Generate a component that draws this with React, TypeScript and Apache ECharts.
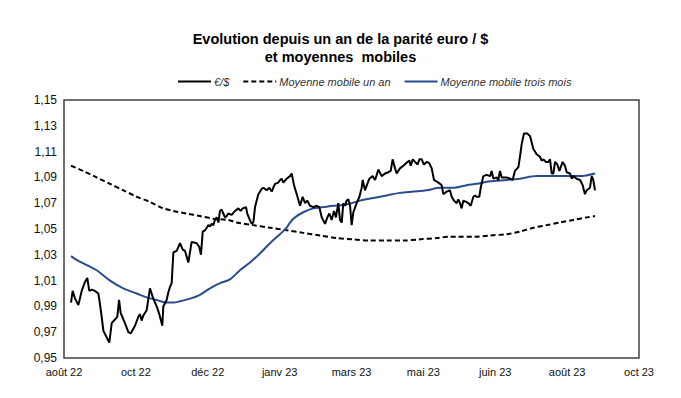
import React, { useEffect, useRef } from "react";
import * as echarts from "echarts";

// x positions are days counted from the first axis tick (late August 2022)
const tickLabels = ["août 22", "oct 22", "déc 22", "janv 23", "mars 23", "mai 23", "juin 23", "août 23", "oct 23"];

const eurDays = [
  4.9, 6.0, 7.7, 10.0, 12.3, 14.6, 16.2, 17.6, 19.3, 21.6, 23.9, 25.0, 26.2, 27.4, 29.7, 31.5, 33.2, 35.5, 37.1, 38.3,
  39.4, 42.4, 44.8, 46.4, 49.4, 51.7, 52.9, 54.0, 55.2, 57.5, 59.8, 62.1, 64.5, 66.3, 68.4, 69.1, 71.4, 72.6, 73.7, 74.9,
  76.1, 78.4, 80.7, 82.6, 84.2, 86.5, 88.8, 92.3, 94.1, 95.3, 96.5, 98.1, 99.3, 100.4, 101.6, 102.7, 103.9, 105.0, 106.2, 107.4,
  108.5, 109.7, 110.8, 112.0, 113.2, 114.3, 116.6, 119.0, 121.3, 122.9, 124.3, 126.6, 127.5, 128.9, 130.6, 131.7, 132.9, 135.2,
  137.5, 138.7, 141.0, 142.8, 144.5, 145.6, 146.8, 149.1, 150.3, 151.4, 152.6, 154.9, 157.2, 158.4, 160.0, 161.9, 164.2, 166.0,
  167.7, 169.3, 171.1, 173.5, 175.8, 177.6, 179.3, 181.6, 183.2, 184.6, 186.2, 187.8, 189.2, 190.8, 192.0, 193.2, 194.3, 195.5,
  196.6, 197.8, 199.0, 200.1, 201.3, 203.6, 205.5, 207.1, 207.8, 209.4, 211.0, 212.4, 214.7, 216.4, 218.7, 221.0, 223.3, 225.6,
  227.3, 228.6, 230.3, 231.4, 233.7, 236.1, 237.9, 240.2, 241.2, 242.6, 244.2, 246.0, 247.2, 248.8, 250.4, 252.3, 254.1, 255.8,
  257.4, 260.4, 262.7, 263.9, 266.2, 268.5, 269.7, 271.3, 273.2, 274.3, 275.5, 276.6, 277.8, 279.7, 281.3, 282.9, 284.8, 285.9,
  287.1, 288.9, 289.9, 291.7, 294.0, 296.4, 297.5, 298.7, 301.0, 302.1, 303.3, 304.5, 305.6, 307.9, 310.3, 312.1, 313.7, 316.1,
  317.2, 318.4, 320.0, 322.3, 324.2, 326.5, 328.8, 331.1, 332.3, 333.5, 335.3, 336.9, 338.1, 339.3, 340.4, 341.6, 343.2, 344.6,
  346.9, 348.5, 349.7, 352.0, 353.2, 354.3, 356.6, 359.0, 360.8, 362.4, 363.6, 364.8, 365.9, 367.1, 368.2, 369.4
];
const eurValues = [
  0.993, 1.002, 0.996, 0.991, 1.002, 1.009, 1.012, 1.002, 1.003, 1.002, 1.000, 0.992, 0.982, 0.971, 0.966, 0.962, 0.977, 0.980, 0.982, 0.995,
  0.985, 0.977, 0.970, 0.969, 0.975, 0.982, 0.984, 0.979, 0.983, 0.987, 1.004, 0.996, 0.990, 0.984, 0.975, 0.990, 0.995, 1.001, 1.005, 1.008,
  1.032, 1.033, 1.039, 1.034, 1.033, 1.024, 1.040, 1.039, 1.036, 1.030, 1.048, 1.049, 1.051, 1.053, 1.052, 1.054, 1.053, 1.057, 1.059, 1.055,
  1.064, 1.065, 1.062, 1.059, 1.060, 1.062, 1.061, 1.064, 1.066, 1.064, 1.066, 1.067, 1.062, 1.058, 1.054, 1.055, 1.067, 1.077,
  1.081, 1.082, 1.080, 1.082, 1.079, 1.082, 1.085, 1.086, 1.088, 1.089, 1.086, 1.089, 1.091, 1.093, 1.084, 1.077, 1.068, 1.075,
  1.070, 1.072, 1.068, 1.067, 1.068, 1.067, 1.059, 1.054, 1.059, 1.062, 1.057, 1.064, 1.059, 1.070, 1.057, 1.055, 1.070, 1.068,
  1.072, 1.073, 1.068, 1.053, 1.063, 1.070, 1.075, 1.082, 1.088, 1.080, 1.085, 1.089, 1.091, 1.088, 1.096, 1.091, 1.093, 1.094,
  1.095, 1.104, 1.097, 1.093, 1.097, 1.099, 1.101, 1.103, 1.099, 1.104, 1.102, 1.100, 1.104, 1.104, 1.100, 1.102, 1.101, 1.097,
  1.088, 1.086, 1.084, 1.077, 1.079, 1.080, 1.075, 1.072, 1.070, 1.073, 1.070, 1.066, 1.072, 1.071, 1.070, 1.068, 1.075, 1.076,
  1.075, 1.075, 1.082, 1.091, 1.092, 1.091, 1.095, 1.089, 1.090, 1.088, 1.095, 1.090, 1.090, 1.090, 1.089, 1.088, 1.095, 1.098,
  1.106, 1.116, 1.124, 1.124, 1.122, 1.112, 1.108, 1.106, 1.103, 1.104, 1.102, 1.102, 1.104, 1.093, 1.093, 1.102, 1.100, 1.095,
  1.102, 1.099, 1.094, 1.093, 1.089, 1.091, 1.089, 1.088, 1.084, 1.077, 1.080, 1.081, 1.082, 1.091, 1.088, 1.080
];

const maYearDays = [4.9, 13.4, 22.7, 32.0, 41.3, 50.6, 59.8, 69.1, 76.1, 85.3, 94.6, 103.9, 114.3, 120.1, 131.7, 143.3, 154.9, 166.5, 178.1, 189.7, 201.3, 212.9, 224.5, 236.1, 247.7, 259.2, 268.5, 273.2, 284.8, 296.3, 307.9, 317.2, 326.5, 335.8, 345.0, 354.3, 363.6, 369.4];
const maYearValues = [1.099, 1.095, 1.090, 1.085, 1.080, 1.075, 1.071, 1.066, 1.064, 1.062, 1.060, 1.058, 1.057, 1.055, 1.053, 1.051, 1.049, 1.047, 1.045, 1.043, 1.042, 1.041, 1.041, 1.041, 1.042, 1.043, 1.044, 1.044, 1.044, 1.045, 1.046, 1.048, 1.051, 1.053, 1.055, 1.057, 1.059, 1.060];

const ma3mDays = [4.9, 8.8, 15.8, 22.7, 32.0, 41.3, 50.6, 57.5, 64.5, 71.4, 76.1, 80.7, 87.7, 94.6, 101.6, 108.5, 115.5, 122.4, 129.4, 136.3, 143.3, 150.3, 154.9, 157.2, 160.7, 166.5, 173.4, 180.4, 187.4, 196.6, 205.9, 215.2, 224.5, 233.7, 243.0, 252.3, 261.6, 270.8, 280.1, 287.1, 296.3, 307.9, 317.2, 328.8, 338.1, 349.7, 359.0, 369.4];
const ma3mValues = [1.029, 1.026, 1.022, 1.018, 1.010, 1.004, 1.000, 0.997, 0.995, 0.993, 0.993, 0.994, 0.996, 0.999, 1.004, 1.008, 1.011, 1.018, 1.024, 1.031, 1.039, 1.046, 1.051, 1.055, 1.059, 1.063, 1.066, 1.067, 1.068, 1.069, 1.072, 1.074, 1.076, 1.078, 1.079, 1.080, 1.082, 1.082, 1.084, 1.085, 1.087, 1.088, 1.089, 1.091, 1.091, 1.091, 1.091, 1.093];

const zip = (xs: number[], ys: number[]) => xs.map((x, i) => [x, ys[i]]);

export default function App() {
  const ref = useRef<HTMLDivElement>(null);
  useEffect(() => {
    if (!ref.current) return;
    const chart = echarts.init(ref.current, undefined, { renderer: "svg" });
    chart.setOption({
      animation: false,
      backgroundColor: "#ffffff",
      textStyle: { fontFamily: "Liberation Sans, Arial, sans-serif" },
      title: {
        text: "Evolution depuis un an de la parité euro / $\net moyennes  mobiles",
        left: "center",
        top: 25,
        textStyle: { fontSize: 14.5, fontWeight: "bold", color: "#000", lineHeight: 18, fontFamily: "Liberation Sans, Arial, sans-serif" },
      },
      legend: {
        top: 71,
        left: 172,
        itemWidth: 33,
        itemHeight: 10,
        itemGap: 13,
        itemStyle: { opacity: 0 },
        textStyle: { fontSize: 11, fontStyle: "italic", color: "#333", fontFamily: "Liberation Sans, Arial, sans-serif", padding: [0, 0, 0, -2] },
        data: ["€/$", "Moyenne mobile un an", "Moyenne mobile trois mois"],
      },
      grid: {
        left: 64,
        right: 42,
        top: 100,
        bottom: 40,
        show: true,
        borderColor: "#404040",
        borderWidth: 1.5,
        containLabel: false,
      },
      xAxis: {
        type: "value",
        min: 0,
        max: 400,
        interval: 50,
        axisLine: { show: false },
        axisTick: { show: false },
        splitLine: { show: false },
        axisLabel: {
          fontSize: 11,
          color: "#111",
          margin: 8,
          formatter: (v: number) => tickLabels[Math.round(v / 50)] ?? "",
        },
      },
      yAxis: {
        type: "value",
        min: 0.95,
        max: 1.15,
        interval: 0.02,
        axisLine: { show: false },
        axisTick: { show: false },
        splitLine: { show: false },
        axisLabel: {
          fontSize: 12,
          color: "#111",
          margin: 7,
          formatter: (v: number) => v.toFixed(2).replace(".", ","),
        },
      },
      series: [
        {
          name: "€/$",
          type: "line",
          data: zip(eurDays, eurValues),
          showSymbol: false,
          symbol: "none",
          lineStyle: { color: "#000", width: 2 },
          itemStyle: { color: "#000" },
          z: 3,
        },
        {
          name: "Moyenne mobile un an",
          type: "line",
          data: zip(maYearDays, maYearValues),
          showSymbol: false,
          symbol: "none",
          smooth: 0.3,
          lineStyle: { color: "#000", width: 2, type: [5, 3] },
          itemStyle: { color: "#000" },
          z: 2,
        },
        {
          name: "Moyenne mobile trois mois",
          type: "line",
          data: zip(ma3mDays, ma3mValues),
          showSymbol: false,
          symbol: "none",
          smooth: 0.3,
          lineStyle: { color: "#2B4C8C", width: 2 },
          itemStyle: { color: "#2B4C8C" },
          z: 2,
        },
      ],
    });
    return () => chart.dispose();
  }, []);
  return (
    <div
      ref={ref}
      style={{ position: "fixed", left: 0, top: 0, width: 681, height: 398, background: "#fff" }}
    />
  );
}
